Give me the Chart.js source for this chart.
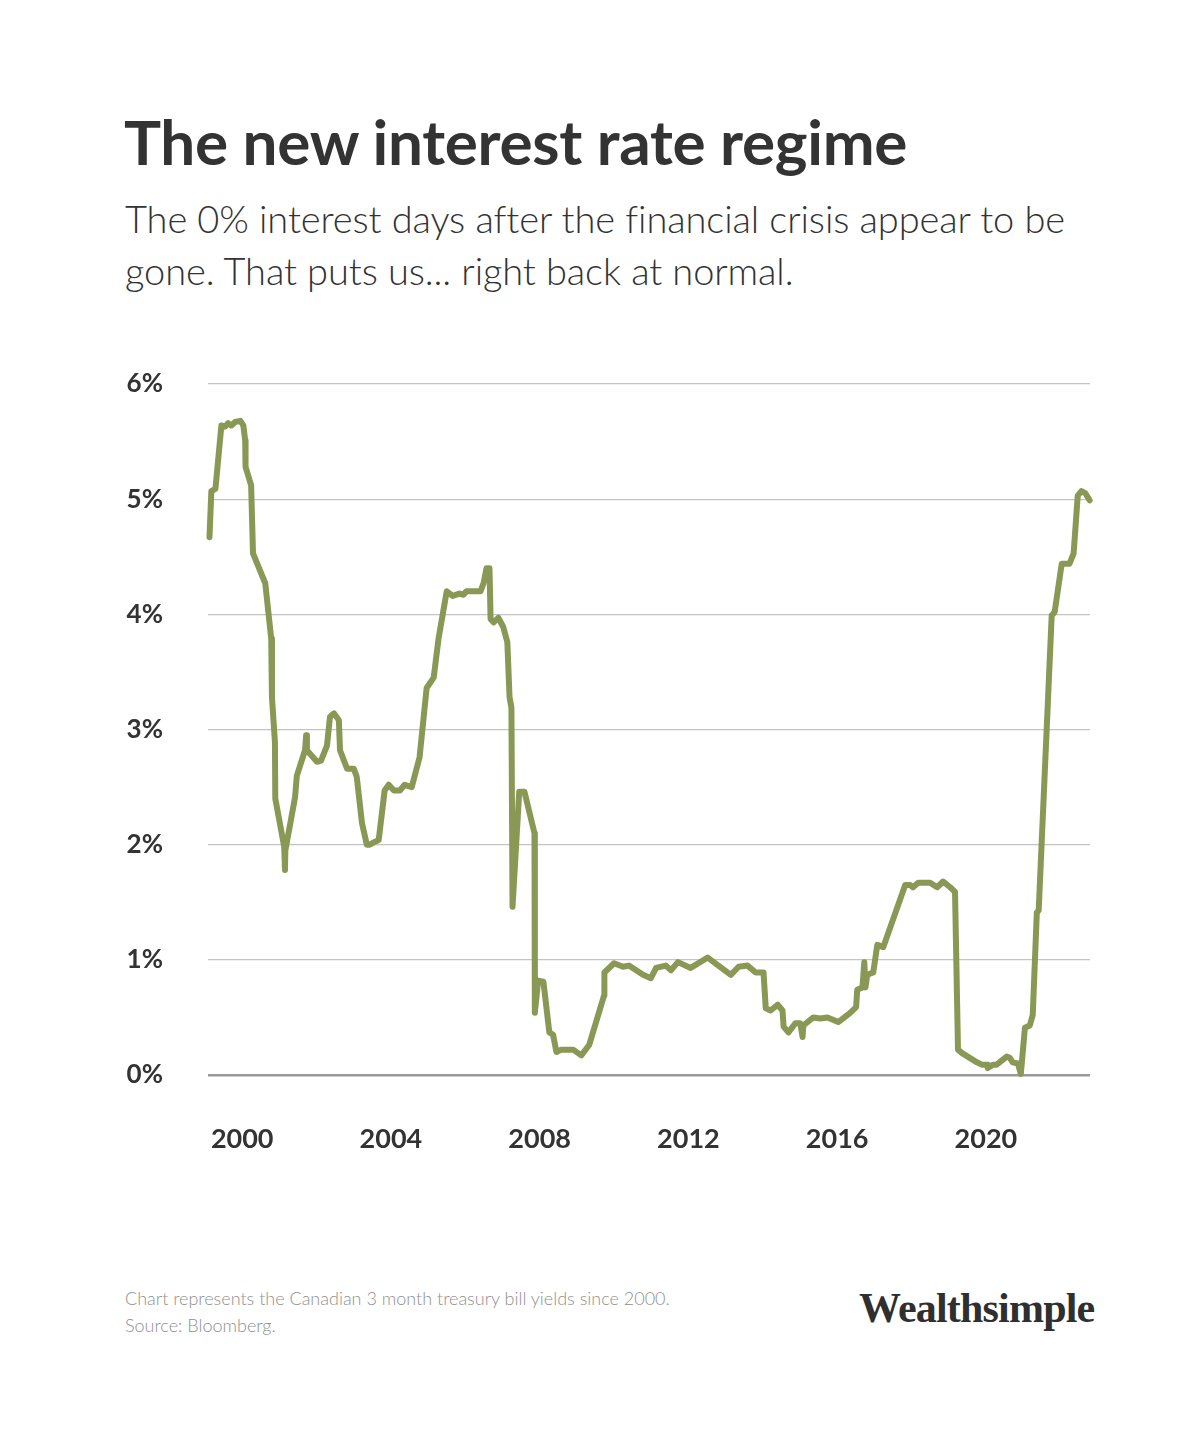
<!DOCTYPE html>
<html>
<head>
<meta charset="utf-8">
<script src="https://cdn.jsdelivr.net/npm/chart.js@4.4.1/dist/chart.umd.min.js"></script>
<style>
  html, body { margin: 0; padding: 0; background: #fff; }
  body { width: 1200px; height: 1446px; position: relative; overflow: hidden; font-family: Lato, "Noto Sans", sans-serif; color: #333; }
  h1 { position: absolute; left: 124px; top: 104px; margin: 0; font-size: 62px; font-weight: 700; letter-spacing: -0.3px; white-space: nowrap; }
  .sub { position: absolute; left: 125px; top: 192px; margin: 0; font-size: 38px; font-weight: 300; line-height: 52px; width: 980px; letter-spacing: -0.1px; }
  .chart { position: absolute; left: 0; top: 340px; width: 1200px; height: 840px; }
  .note { position: absolute; left: 125px; top: 1285px; font-size: 18px; font-weight: 300; line-height: 27px; color: #8f8f8f; }
  .logo { position: absolute; left: 859px; top: 1284px; font-family: "Liberation Serif", serif; font-weight: 700; font-size: 42px; letter-spacing: -0.8px; color: #2f2f2f; }
</style>
</head>
<body>
<h1>The new interest rate regime</h1>
<p class="sub">The 0% interest days after the financial crisis appear to be gone. That puts us... right back at normal.</p>
<div class="chart"><canvas id="c"></canvas></div>
<div class="note">Chart represents the Canadian 3 month treasury bill yields since 2000.<br>Source: Bloomberg.</div>
<div class="logo">Wealthsimple</div>
<script>
// Canadian 3-month T-bill yield (decimal year, %)
const years = [1999.12, 1999.17, 1999.28, 1999.44, 1999.54, 1999.62, 1999.71, 1999.81, 1999.95, 2000.03,
  2000.08, 2000.09, 2000.24, 2000.29, 2000.62, 2000.78, 2000.80, 2000.88, 2000.89, 2001.13,
  2001.15, 2001.16, 2001.42, 2001.47, 2001.69, 2001.72, 2001.74, 2002.01, 2002.12, 2002.28,
  2002.36, 2002.47, 2002.60, 2002.63, 2002.82, 2003.00, 2003.08, 2003.22, 2003.35, 2003.43,
  2003.54, 2003.67, 2003.83, 2003.94, 2004.08, 2004.24, 2004.37, 2004.56, 2004.77, 2004.96,
  2005.15, 2005.28, 2005.50, 2005.66, 2005.84, 2005.95, 2006.03, 2006.17, 2006.41, 2006.49,
  2006.57, 2006.65, 2006.68, 2006.76, 2006.89, 2007.02, 2007.13, 2007.19, 2007.24, 2007.27,
  2007.45, 2007.59, 2007.86, 2007.87, 2007.96, 2008.10, 2008.26, 2008.36, 2008.45, 2008.58,
  2008.90, 2009.12, 2009.33, 2009.73, 2009.74, 2010.00, 2010.24, 2010.40, 2010.78, 2010.99,
  2011.13, 2011.39, 2011.53, 2011.72, 2012.06, 2012.52, 2013.14, 2013.35, 2013.59, 2013.81,
  2014.02, 2014.08, 2014.21, 2014.40, 2014.53, 2014.56, 2014.69, 2014.88, 2015.01, 2015.07,
  2015.09, 2015.36, 2015.55, 2015.74, 2016.03, 2016.35, 2016.51, 2016.54, 2016.68, 2016.73,
  2016.76, 2016.81, 2016.97, 2017.08, 2017.24, 2017.83, 2017.96, 2018.04, 2018.18, 2018.50,
  2018.69, 2018.85, 2019.04, 2019.17, 2019.25, 2019.36, 2019.76, 2019.89, 2020.03, 2020.05,
  2020.19, 2020.29, 2020.56, 2020.64, 2020.72, 2020.86, 2020.94, 2021.05, 2021.18, 2021.26,
  2021.37, 2021.42, 2021.77, 2021.85, 2022.04, 2022.14, 2022.25, 2022.36, 2022.47, 2022.57,
  2022.68, 2022.79];

const rates = [4.67, 5.07, 5.09, 5.64, 5.63, 5.66, 5.64, 5.67, 5.68, 5.64,
  5.51, 5.28, 5.12, 4.53, 4.27, 3.79, 3.28, 2.89, 2.40, 1.98,
  1.78, 1.95, 2.41, 2.60, 2.82, 2.95, 2.82, 2.72, 2.73, 2.86,
  3.11, 3.14, 3.08, 2.82, 2.66, 2.66, 2.59, 2.19, 2.00, 2.00,
  2.02, 2.04, 2.47, 2.52, 2.47, 2.47, 2.52, 2.50, 2.76, 3.36,
  3.45, 3.79, 4.20, 4.16, 4.18, 4.17, 4.20, 4.20, 4.20, 4.27,
  4.40, 4.40, 3.96, 3.93, 3.97, 3.89, 3.76, 3.28, 3.19, 1.46,
  2.46, 2.46, 2.10, 0.54, 0.82, 0.81, 0.37, 0.35, 0.20, 0.22,
  0.22, 0.17, 0.26, 0.69, 0.89, 0.97, 0.94, 0.95, 0.87, 0.84,
  0.93, 0.95, 0.91, 0.98, 0.93, 1.02, 0.87, 0.94, 0.95, 0.89,
  0.89, 0.58, 0.56, 0.61, 0.56, 0.42, 0.37, 0.45, 0.45, 0.33,
  0.43, 0.50, 0.49, 0.50, 0.46, 0.54, 0.59, 0.74, 0.76, 0.98,
  0.76, 0.87, 0.89, 1.13, 1.11, 1.65, 1.65, 1.63, 1.67, 1.67,
  1.63, 1.68, 1.63, 1.59, 0.22, 0.19, 0.11, 0.09, 0.09, 0.06,
  0.09, 0.09, 0.16, 0.15, 0.11, 0.10, 0.01, 0.41, 0.43, 0.52,
  1.41, 1.43, 3.99, 4.02, 4.44, 4.44, 4.44, 4.53, 5.03, 5.07,
  5.05, 4.99];

const yearTicks = [2000, 2004, 2008, 2012, 2016, 2020];
const rateTicks = [0, 1, 2, 3, 4, 5, 6];

const points = years.map((y, i) => ({ x: y, y: rates[i] }));

new Chart(document.getElementById('c'), {
  type: 'line',
  data: {
    datasets: [{
      data: points,
      borderColor: '#8a9855',
      borderWidth: 6,
      borderCapStyle: 'round',
      borderJoinStyle: 'round',
      pointRadius: 0,
      tension: 0,
      clip: false
    }]
  },
  options: {
    responsive: true,
    maintainAspectRatio: false,
    animation: false,
    layout: { padding: { left: 0, right: 110, top: 44, bottom: 0 } },
    plugins: { legend: { display: false }, tooltip: { enabled: false } },
    scales: {
      x: {
        type: 'linear',
        min: 1999.08,
        max: 2022.8,
        afterBuildTicks: s => { s.ticks = yearTicks.map(v => ({ value: v })); },
        afterFit: s => { s.height = 105; },
        grid: { display: false, drawTicks: false },
        border: { display: false },
        ticks: {
          padding: 48,
          color: '#333',
          font: { family: 'Lato', size: 27, weight: '700' },
          callback: v => String(v)
        }
      },
      y: {
        min: 0,
        max: 6,
        afterBuildTicks: s => { s.ticks = rateTicks.map(v => ({ value: v })); },
        afterFit: s => { s.width = 208; s.paddingTop = 0; s.paddingBottom = 0; },
        grid: {
          drawTicks: false,
          color: c => c.tick && c.tick.value === 0 ? '#999' : '#c4c4c4',
          lineWidth: c => c.tick && c.tick.value === 0 ? 2.5 : 1.2
        },
        border: { display: false },
        ticks: {
          padding: 45,
          color: '#333',
          font: { family: 'Lato', size: 26, weight: '700' },
          callback: v => v + '%'
        }
      }
    }
  }
});
</script>
</body>
</html>
